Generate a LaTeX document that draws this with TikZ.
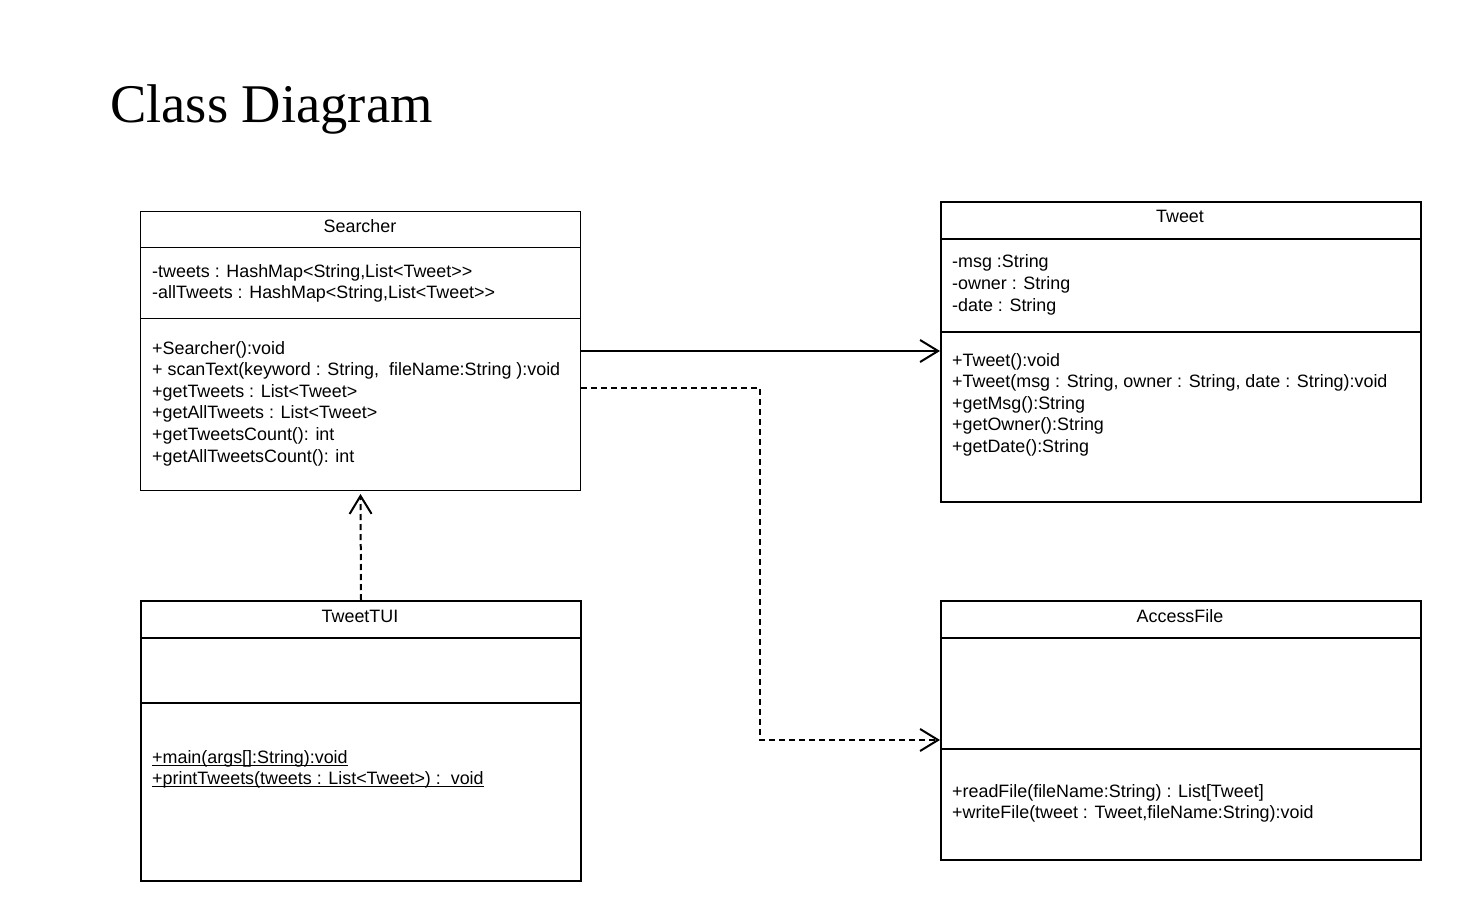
\documentclass[tikz,border=0pt]{standalone}
\usepackage{fontspec}
\setmainfont{Liberation Sans}
\newfontfamily\titlefont{Liberation Serif}
\usetikzlibrary{arrows.meta}
\newcommand\myuline[1]{{\setbox0\hbox{#1}\rlap{\rule[-2.5pt]{\wd0}{1pt}}\box0}}
\begin{document}
\begin{tikzpicture}[x=1pt,y=-1pt,
  box/.style={draw, line width=2pt, anchor=north west, inner sep=0pt},
  thinbox/.style={box, line width=1pt},
  sep/.style={line width=2pt},
  thinsep/.style={line width=1pt},
  ttl/.style={font=\fontsize{17.9}{21.6}\selectfont, anchor=base, inner sep=0pt},
  txt/.style={font=\fontsize{17.9}{21.6}\selectfont, align=left, anchor=base west, inner sep=0pt},
  conn/.style={line width=2pt, -{Straight Barb[length=18pt,width=22pt,line width=2pt]}},
  dep/.style={conn, dash pattern=on 6pt off 4pt}]
\useasboundingbox (0,0) rectangle (1460,920);
\fill[white] (0,0) rectangle (1460,920);

% title
\node[font=\titlefont\fontsize{54.5}{60}\selectfont, anchor=base west, inner sep=0pt] (title) at (110,123) {Class Diagram};

% Searcher (text nodes anchored at the baseline of their last line)
\node[thinbox, minimum width=440pt, minimum height=279pt] (searcher) at (140,211) {};
\draw[thinsep] (140,248) -- (580,248);
\draw[thinsep] (140,318) -- (580,318);
\node[ttl] (searcherT) at (360,233) {Searcher};
\node[txt] (searcherA) at (152,298.6) {-tweets : HashMap<String,List<Tweet>{}>\\-allTweets : HashMap<String,List<Tweet>{}>};
\node[txt] (searcherM) at (152,462) {+Searcher():void\\+ scanText(keyword : String,\ \ fileName:String ):void\\+getTweets : List<Tweet>\\+getAllTweets : List<Tweet>\\+getTweetsCount(): int\\+getAllTweetsCount(): int};

% Tweet
\node[box, minimum width=480pt, minimum height=300pt] (tweet) at (940,201) {};
\draw[sep] (940,239) -- (1420,239);
\draw[sep] (940,332) -- (1420,332);
\node[ttl] (tweetT) at (1180,223) {Tweet};
\node[txt] (tweetA) at (952,311.2) {-msg :String\\-owner : String\\-date : String};
\node[txt] (tweetM) at (952,452.4) {+Tweet():void\\+Tweet(msg : String, owner : String, date : String):void\\+getMsg():String\\+getOwner():String\\+getDate():String};

% TweetTUI
\node[box, minimum width=440pt, minimum height=280pt] (tui) at (140,600) {};
\draw[sep] (140,638) -- (580,638);
\draw[sep] (140,703) -- (580,703);
\node[ttl] (tuiT) at (360,622) {TweetTUI};
\node[txt] (tuiM) at (152,784.6) {\myuline{+main(args[]:String):void}\\\myuline{+printTweets(tweets : List<Tweet>) :\ \ void}};

% AccessFile
\node[box, minimum width=480pt, minimum height=259pt] (access) at (940,600) {};
\draw[sep] (940,638) -- (1420,638);
\draw[sep] (940,749) -- (1420,749);
\node[ttl] (accessT) at (1180,622) {AccessFile};
\node[txt] (accessM) at (952,818.6) {+readFile(fileName:String) : List[Tweet]\\+writeFile(tweet : Tweet,fileName:String):void};

% connectors
\coordinate (p1) at ([yshift=-140pt]searcher.north east);
\draw[conn] (p1) -- (p1 -| tweet.west);
\coordinate (p2) at ([yshift=-177pt]searcher.north east);
\coordinate (p3) at ([yshift=-140pt]access.north west);
\coordinate (bend) at (760,388);
\draw[dep] (p2) -- (bend) |- (p3);
\draw[dep] (tui.north) -- ([yshift=-3pt]searcher.south);
\end{tikzpicture}
\end{document}
